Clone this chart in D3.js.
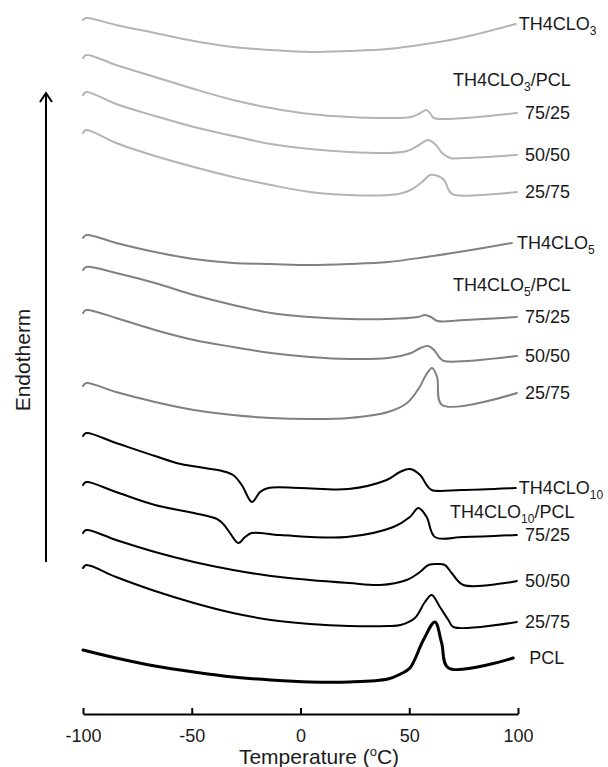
<!DOCTYPE html>
<html>
<head>
<meta charset="utf-8">
<script src="https://cdn.jsdelivr.net/npm/d3@7"></script>
<style>
body { margin: 0; background: #fff; }
text { font-family: "Liberation Sans", Arial, sans-serif; fill: #1a1a1a; }
</style>
</head>
<body>
<svg id="chart" width="608" height="767"></svg>
<script>
// DSC heating traces, [temperature (oC), heat flow (a.u., shifted)]
var clo3Pure = [[-100,69.4],[-98.5,69.6],[-84.8,68.9],[-66.9,68.1],[-49,67.3],[-31,66.7],[-13.6,66.4],[4.4,66.2],[22.3,66.3],[40.2,66.5],[57.7,67.0],[75.6,67.7],[99,69.0]];
var clo3_75 = [[-100,65.6],[-98.5,65.9],[-84.8,64.9],[-66.9,63.7],[-49,62.5],[-31,61.4],[-13.6,60.6],[4.4,60.0],[22.3,59.7],[40.2,59.6],[50.8,59.7],[55.2,60.1],[57.7,60.4],[59.5,60.1],[61.4,59.6],[75.6,59.6],[99.5,60.1]];
var clo3_50 = [[-100,61.9],[-98.5,62.2],[-84.8,61.0],[-66.9,59.8],[-49,58.7],[-31,57.8],[-13.6,57.0],[4.4,56.5],[22.3,56.2],[40.2,56.1],[49,56.3],[54.5,56.9],[58.6,57.4],[62.3,56.9],[65.1,56.1],[68.7,55.6],[75.6,55.6],[99.5,55.9]];
var clo3_25 = [[-100,58.1],[-98.5,58.4],[-84.8,57.1],[-66.9,55.8],[-49,54.7],[-31,53.7],[-13.6,52.9],[4.4,52.2],[22.3,51.9],[36,51.85],[46,52.05],[51.5,52.5],[55.9,53.2],[59.5,53.9],[63.2,53.8],[66,53.4],[68.7,52.2],[71,51.9],[99.5,52.2]];

var clo5Pure = [[-100,47.6],[-98.5,47.9],[-84.8,47.1],[-66.9,46.2],[-49,45.5],[-31,45.1],[-13.6,45.0],[4.4,44.9],[22.3,45.0],[40.2,45.2],[57.7,45.7],[75.6,46.3],[97.2,47.1]];
var clo5_75 = [[-100,44.4],[-98.5,44.7],[-84.8,44.1],[-66.9,43.1],[-49,41.9],[-31,40.9],[-13.6,40.1],[4.4,39.7],[22.3,39.5],[40.2,39.5],[54,39.7],[57.2,39.9],[60,39.7],[63,39.3],[75.6,39.4],[99.5,39.7]];
var clo5_50 = [[-100,40.1],[-98.5,40.4],[-84.8,39.6],[-66.9,38.4],[-49,37.4],[-31,36.7],[-13.6,36.1],[4.4,35.7],[22.3,35.5],[40.2,35.6],[50.8,36.1],[55.2,36.6],[58.6,36.8],[61.4,36.4],[64.1,35.6],[66,35.3],[99.5,35.8]];
var clo5_25 = [[-100,32.8],[-98.5,33.1],[-84.8,32.2],[-66.9,31.2],[-49,30.4],[-31,29.9],[-13.6,29.6],[4.4,29.5],[22.3,29.6],[40.2,30.2],[49,31.1],[54.5,32.6],[57.7,33.9],[60.5,34.6],[62.8,33.7],[65.1,30.9],[99.5,32.1]];

var clo10Pure = [[-100,27.8],[-98.5,28.1],[-84.8,27.1],[-66.9,25.8],[-55,25.0],[-44,24.6],[-36,24.3],[-31,23.9],[-27,22.9],[-22.3,21.2],[-18.6,22.2],[-14.8,22.6],[0,22.6],[22,22.5],[39.6,23.4],[45.7,24.2],[50.3,24.5],[55,23.9],[58,22.9],[60.3,22.4],[74,22.4],[99,22.6]];
var clo10_75 = [[-100,22.9],[-98.5,23.2],[-84.8,22.2],[-66.9,20.9],[-49,20.1],[-38.4,19.5],[-35.5,19.0],[-32.4,18.1],[-28.6,17.1],[-25.5,17.7],[-22.4,18.1],[-9.4,17.9],[21.2,17.7],[42.7,18.7],[50.3,19.7],[54.2,20.6],[58,19.7],[61.8,17.7],[75,17.7],[99.5,17.9]];
var clo10_50 = [[-100,18.1],[-98.5,18.4],[-84.8,17.4],[-66.9,16.2],[-49,15.2],[-31,14.4],[-13.6,13.8],[4.4,13.4],[22.3,13.1],[36.6,12.9],[48.8,13.4],[54.9,14.2],[58.8,14.9],[63,15.0],[66.4,14.9],[69.5,14.1],[74.9,12.9],[99.5,13.3]];
var clo10_25 = [[-100,14.6],[-98.5,14.9],[-84.8,13.7],[-66.9,12.3],[-49,11.1],[-31,10.1],[-13.6,9.4],[4.4,9.0],[22.3,8.8],[40.2,8.8],[46,8.9],[52.6,9.6],[57.2,11.2],[60.3,11.9],[64.1,10.7],[68,9.4],[70.3,8.7],[99.5,9.2]];

var pcl = [[-100,6.4],[-84.8,5.6],[-66.9,4.8],[-49,4.2],[-31,3.7],[-13.6,3.4],[4.4,3.2],[22.3,3.2],[40.2,3.5],[46,4.0],[50.3,4.6],[56.5,7.4],[61.8,9.2],[64.9,7.1],[68,4.6],[97.8,5.6]];

var xTicks = [-100, -50, 0, 50, 100];

// label text: [main, subscript, rest]
var traces = [
    {data: clo3Pure, color: "#b4b4b4", label: ["TH4CLO", "3", ""], dx: 3},
    {data: clo3_75,  color: "#b4b4b4", label: ["75/25"], dx: 8},
    {data: clo3_50,  color: "#b4b4b4", label: ["50/50"], dx: 8},
    {data: clo3_25,  color: "#b4b4b4", label: ["25/75"], dx: 8},
    {data: clo5Pure, color: "#808080", label: ["TH4CLO", "5", ""], dx: 5},
    {data: clo5_75,  color: "#808080", label: ["75/25"], dx: 8},
    {data: clo5_50,  color: "#808080", label: ["50/50"], dx: 8},
    {data: clo5_25,  color: "#808080", label: ["25/75"], dx: 8},
    {data: clo10Pure, color: "#000", label: ["TH4CLO", "10", ""], dx: 3},
    {data: clo10_75, color: "#000", label: ["75/25"], dx: 8},
    {data: clo10_50, color: "#000", label: ["50/50"], dx: 8},
    {data: clo10_25, color: "#000", label: ["25/75"], dx: 8},
    {data: pcl, color: "#000", label: ["PCL"], dx: 16, width: 3}
];

var headers = [
    {label: ["TH4CLO", "3", "/PCL"], x: 453, y: 80},
    {label: ["TH4CLO", "5", "/PCL"], x: 453, y: 285},
    {label: ["TH4CLO", "10", "/PCL"], x: 450, y: 512}
];

var svg = d3.select("#chart");
var axisY = 714;

var x = d3.scaleLinear()
    .domain([-100, 100])
    .range([83, 518]);

var y = d3.scaleLinear()
    .domain([0, 71.4])
    .range([axisY, 0]);

var line = d3.line()
    .curve(d3.curveCatmullRom.alpha(0.5))
    .x(d => x(d[0]))
    .y(d => y(d[1]));

svg.append("g")
    .selectAll("path")
    .data(traces)
    .enter()
    .append("path")
    .attr("d", d => line(d.data))
    .attr("fill", "none")
    .attr("stroke", d => d.color)
    .attr("stroke-width", d => d.width || 2)
    .attr("stroke-linejoin", "round")
    .attr("stroke-linecap", "round");

function writeLabel(sel, parts) {
    sel.append("tspan").text(parts[0]);
    if (parts.length > 1) {
	sel.append("tspan").attr("font-size", 12).attr("dy", 5).text(parts[1]);
	if (parts[2]) sel.append("tspan").attr("dy", -5).text(parts[2]);
    }
}

var labels = svg.append("g").attr("font-size", 18);

traces.forEach(function(t) {
    var last = t.data[t.data.length - 1];
    var txt = labels.append("text")
	.attr("x", x(last[0]) + t.dx)
	.attr("y", y(last[1]))
	.attr("dy", "0.35em");
    writeLabel(txt, t.label);
});

headers.forEach(function(h) {
    var txt = labels.append("text")
	.attr("x", h.x)
	.attr("y", h.y)
	.attr("dy", "0.35em");
    writeLabel(txt, h.label);
});

// x axis, ticks pointing up, plain hyphen for negatives
var axis = svg.append("g")
    .attr("transform", "translate(0," + axisY + ")")
    .call(d3.axisBottom(x)
	  .tickValues(xTicks)
	  .tickFormat(d => String(d))
	  .tickSize(-6)
	  .tickSizeOuter(0)
	  .tickPadding(15));
axis.select(".domain").attr("stroke-width", 2);
axis.selectAll(".tick line").attr("stroke-width", 2);
axis.selectAll(".tick text")
    .attr("font-size", 18)
    .attr("font-family", "Liberation Sans, Arial, sans-serif")
    .attr("fill", "#1a1a1a");

var title = svg.append("text")
    .attr("x", 319)
    .attr("y", 764)
    .attr("text-anchor", "middle")
    .attr("font-size", 21);
title.append("tspan").text("Temperature (");
title.append("tspan").attr("font-size", 13).attr("dy", -8).text("o");
title.append("tspan").attr("dy", 8).text("C)");

// endotherm arrow
svg.append("text")
    .attr("transform", "translate(23,360) rotate(-90)")
    .attr("text-anchor", "middle")
    .attr("dy", "0.35em")
    .attr("font-size", 21)
    .text("Endotherm");

svg.append("line")
    .attr("x1", 46).attr("x2", 46)
    .attr("y1", 562).attr("y2", 94)
    .attr("stroke", "#000")
    .attr("stroke-width", 2);
svg.append("path")
    .attr("d", "M40,102 L46,93 L52,102")
    .attr("fill", "none")
    .attr("stroke", "#000")
    .attr("stroke-width", 2);
</script>
</body>
</html>
